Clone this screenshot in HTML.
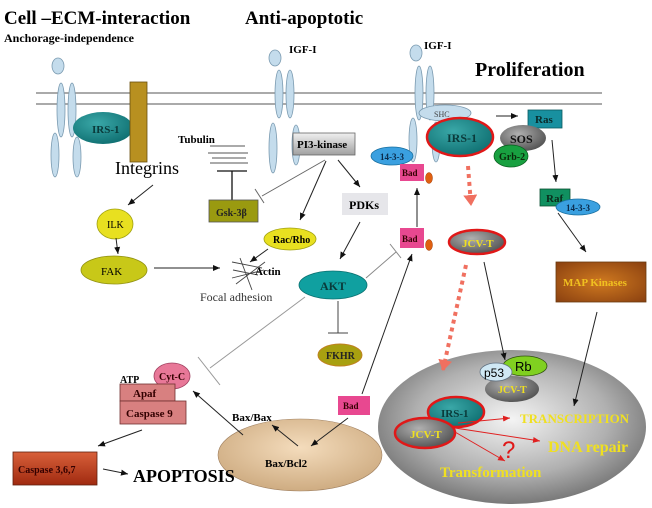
<!DOCTYPE html>
<html><head><meta charset="utf-8"><style>
html,body{margin:0;padding:0;background:#fff}
svg{display:block}
text{font-family:"Liberation Serif",serif;font-weight:bold}
</style></head><body>
<svg width="652" height="508" viewBox="0 0 652 508" xmlns="http://www.w3.org/2000/svg">
<defs>
<marker id="a" markerWidth="8" markerHeight="8" refX="7" refY="4" orient="auto" markerUnits="userSpaceOnUse"><path d="M0,1 L7,4 L0,7 Z" fill="#111"/></marker>
<marker id="r" markerWidth="8" markerHeight="8" refX="7" refY="4" orient="auto" markerUnits="userSpaceOnUse"><path d="M0,1 L7,4 L0,7 Z" fill="#e02020"/></marker>
<marker id="p" markerWidth="14" markerHeight="14" refX="10" refY="7" orient="auto" markerUnits="userSpaceOnUse"><path d="M0,0 L11,7 L0,14 Z" fill="#f07060"/></marker>
<radialGradient id="nuc" cx="0.5" cy="0.45" r="0.6"><stop offset="0" stop-color="#f4f4f4"/><stop offset="0.6" stop-color="#b0b0b0"/><stop offset="1" stop-color="#6a6a6a"/></radialGradient>
<radialGradient id="gr" cx="0.4" cy="0.35" r="0.7"><stop offset="0" stop-color="#b0b0b0"/><stop offset="1" stop-color="#505050"/></radialGradient>
<radialGradient id="tl" cx="0.4" cy="0.35" r="0.7"><stop offset="0" stop-color="#3aa8a8"/><stop offset="1" stop-color="#0e6e70"/></radialGradient>
<radialGradient id="map" cx="0.5" cy="0.5" r="0.7"><stop offset="0" stop-color="#d07a20"/><stop offset="1" stop-color="#8a4010"/></radialGradient>
<radialGradient id="tan" cx="0.5" cy="0.4" r="0.7"><stop offset="0" stop-color="#f4dcbc"/><stop offset="1" stop-color="#c8a478"/></radialGradient>
<linearGradient id="pi" x1="0" y1="0" x2="0" y2="1"><stop offset="0" stop-color="#f0f0f0"/><stop offset="1" stop-color="#a0a0a0"/></linearGradient>
<linearGradient id="cas" x1="0" y1="0" x2="0" y2="1"><stop offset="0" stop-color="#d8603a"/><stop offset="1" stop-color="#a02a10"/></linearGradient>
</defs>

<text x="4" y="24" font-size="19">Cell –ECM-interaction</text>
<text x="245" y="24" font-size="19">Anti-apoptotic</text>
<text x="4" y="42" font-size="12">Anchorage-independence</text>
<text x="475" y="76" font-size="20">Proliferation</text>

<line x1="36" y1="93" x2="602" y2="93" stroke="#777" stroke-width="1.3"/>
<line x1="36" y1="104" x2="602" y2="104" stroke="#777" stroke-width="1.3"/>

<g fill="#c4dcec" stroke="#7a9ab0" stroke-width="0.8">
<ellipse cx="58" cy="66" rx="6" ry="8"/>
<ellipse cx="61" cy="110" rx="4" ry="27"/><ellipse cx="72" cy="110" rx="4" ry="27"/>
<ellipse cx="55" cy="155" rx="4" ry="22"/><ellipse cx="77" cy="157" rx="4" ry="20"/>
</g>
<ellipse cx="103" cy="128" rx="30" ry="16" fill="url(#tl)"/>
<text x="92" y="133" font-size="11" fill="#0a3a3a">IRS-1</text>
<rect x="130" y="82" width="17" height="80" fill="#b89020" stroke="#6a5010" stroke-width="0.8"/>
<text x="115" y="174" font-size="18" style="font-weight:normal">Integrins</text>

<text x="178" y="143" font-size="11">Tubulin</text>
<g stroke="#555" stroke-width="1"><line x1="210" y1="146" x2="245" y2="146"/><line x1="208" y1="153" x2="248" y2="153"/><line x1="212" y1="158" x2="246" y2="158"/><line x1="210" y1="163" x2="248" y2="163"/></g>
<line x1="232" y1="171" x2="232" y2="200" stroke="#111" stroke-width="1.3"/>
<line x1="217" y1="171" x2="247" y2="171" stroke="#111" stroke-width="1.3"/>
<rect x="209" y="200" width="49" height="22" fill="#9a9a10" stroke="#555" stroke-width="0.8"/>
<text x="216" y="216" font-size="10" fill="#222">Gsk-3β</text>

<g fill="#c4dcec" stroke="#7a9ab0" stroke-width="0.8">
<ellipse cx="275" cy="58" rx="6" ry="8"/>
<ellipse cx="279" cy="94" rx="4" ry="24"/><ellipse cx="290" cy="94" rx="4" ry="24"/>
<ellipse cx="273" cy="148" rx="4" ry="25"/><ellipse cx="296" cy="145" rx="4" ry="20"/>
</g>
<text x="289" y="53" font-size="11">IGF-I</text>
<rect x="293" y="133" width="62" height="22" fill="url(#pi)" stroke="#666" stroke-width="0.8"/>
<text x="297" y="148" font-size="11">PI3-kinase</text>

<line x1="325" y1="160" x2="262" y2="196" stroke="#666" stroke-width="1"/>
<line x1="255" y1="189" x2="264" y2="203" stroke="#666" stroke-width="1"/>
<line x1="326" y1="161" x2="300" y2="220" stroke="#222" marker-end="url(#a)"/>
<line x1="338" y1="160" x2="360" y2="187" stroke="#222" marker-end="url(#a)"/>
<rect x="342" y="193" width="46" height="22" fill="#e6e6ea"/>
<text x="349" y="209" font-size="12">PDKs</text>

<ellipse cx="290" cy="239" rx="26" ry="11" fill="#e8e020" stroke="#a0a010" stroke-width="0.8"/>
<text x="273" y="243" font-size="10">Rac/Rho</text>

<line x1="153" y1="185" x2="128" y2="205" stroke="#222" marker-end="url(#a)"/>
<ellipse cx="115" cy="224" rx="18" ry="15" fill="#e8e020" stroke="#a0a010" stroke-width="0.8"/>
<text x="107" y="228" font-size="10" style="font-weight:normal">ILK</text>
<line x1="116" y1="238" x2="118" y2="254" stroke="#222" marker-end="url(#a)"/>
<ellipse cx="114" cy="270" rx="33" ry="14" fill="#c8c818" stroke="#909010" stroke-width="0.8"/>
<text x="101" y="275" font-size="11" style="font-weight:normal">FAK</text>
<line x1="154" y1="268" x2="220" y2="268" stroke="#222" marker-end="url(#a)"/>

<g stroke="#444" stroke-width="0.9"><line x1="232" y1="262" x2="262" y2="268"/><line x1="233" y1="270" x2="258" y2="275"/><line x1="232" y1="278" x2="264" y2="270"/><line x1="240" y1="258" x2="252" y2="290"/><line x1="236" y1="284" x2="265" y2="262"/></g>
<text x="255" y="275" font-size="11">Actin</text>
<text x="200" y="301" font-size="12" style="font-weight:normal" fill="#333">Focal adhesion</text>
<line x1="268" y1="249" x2="250" y2="262" stroke="#222" marker-end="url(#a)"/>

<line x1="360" y1="222" x2="340" y2="259" stroke="#222" marker-end="url(#a)"/>
<ellipse cx="333" cy="285" rx="34" ry="14" fill="#10a0a0" stroke="#0a7070" stroke-width="0.8"/>
<text x="320" y="290" font-size="12" fill="#0a3a3a">AKT</text>
<line x1="366" y1="278" x2="396" y2="252" stroke="#888" stroke-width="1"/>
<line x1="390" y1="244" x2="401" y2="258" stroke="#888" stroke-width="1"/>
<line x1="338" y1="301" x2="338" y2="333" stroke="#444" stroke-width="1"/>
<line x1="328" y1="333" x2="348" y2="333" stroke="#444" stroke-width="1"/>
<ellipse cx="340" cy="355" rx="22" ry="11" fill="#a8a010" stroke="#c08020" stroke-width="1"/>
<text x="326" y="359" font-size="10" fill="#222">FKHR</text>
<line x1="305" y1="297" x2="210" y2="368" stroke="#999" stroke-width="1"/>
<line x1="198" y1="357" x2="220" y2="385" stroke="#999" stroke-width="1"/>

<g fill="#c4dcec" stroke="#7a9ab0" stroke-width="0.8">
<ellipse cx="416" cy="53" rx="6" ry="8"/>
<ellipse cx="419" cy="93" rx="4" ry="27"/><ellipse cx="430" cy="93" rx="4" ry="27"/>
<ellipse cx="413" cy="140" rx="4" ry="22"/><ellipse cx="436" cy="142" rx="4" ry="20"/>
</g>
<text x="424" y="49" font-size="11">IGF-I</text>
<ellipse cx="445" cy="113" rx="26" ry="8" fill="#c4dcec" stroke="#7a9ab0" stroke-width="0.8"/>
<text x="434" y="117" font-size="8" style="font-weight:normal" fill="#444">SHC</text>
<line x1="496" y1="116" x2="518" y2="116" stroke="#222" marker-end="url(#a)"/>
<rect x="528" y="110" width="34" height="18" fill="#1890a0" stroke="#0a5a60" stroke-width="0.8"/>
<text x="535" y="123" font-size="11" fill="#0a2a2a">Ras</text>
<ellipse cx="523" cy="138" rx="23" ry="13" fill="url(#gr)"/>
<text x="510" y="143" font-size="12" fill="#111">SOS</text>
<ellipse cx="511" cy="156" rx="17" ry="11" fill="#18a040" stroke="#0a6020" stroke-width="0.8"/>
<text x="499" y="160" font-size="10" fill="#0a2a0a">Grb-2</text>
<ellipse cx="460" cy="137" rx="33" ry="19" fill="url(#tl)" stroke="#e01818" stroke-width="2.5"/>
<text x="447" y="142" font-size="12" fill="#0a3a3a">IRS-1</text>
<ellipse cx="392" cy="156" rx="21" ry="9" fill="#3aa0e0" stroke="#1a70a0" stroke-width="0.8"/>
<text x="380" y="160" font-size="9" fill="#0a2a4a">14-3-3</text>
<rect x="400" y="164" width="24" height="17" fill="#e84890"/>
<text x="402" y="176" font-size="9" fill="#300">Bad</text>
<ellipse cx="429" cy="178" rx="3.5" ry="5.5" fill="#e06010" stroke="#a04010" stroke-width="0.5"/>
<line x1="417" y1="227" x2="417" y2="188" stroke="#222" marker-end="url(#a)"/>

<line x1="468" y1="166" x2="471" y2="205" stroke="#f07060" stroke-width="4" stroke-dasharray="4 4" marker-end="url(#p)"/>

<line x1="552" y1="140" x2="556" y2="182" stroke="#222" marker-end="url(#a)"/>
<rect x="540" y="189" width="30" height="17" fill="#109060" stroke="#0a5030" stroke-width="0.8"/>
<text x="546" y="202" font-size="11" fill="#0a2a1a">Raf</text>
<ellipse cx="578" cy="207" rx="22" ry="8" fill="#3aa0e0" stroke="#1a70a0" stroke-width="0.8"/>
<text x="566" y="211" font-size="9" fill="#0a2a4a">14-3-3</text>
<line x1="558" y1="213" x2="586" y2="252" stroke="#222" marker-end="url(#a)"/>
<rect x="556" y="262" width="90" height="40" fill="url(#map)" stroke="#6a3a10" stroke-width="0.8"/>
<text x="563" y="286" font-size="11" fill="#f0c020">MAP Kinases</text>

<ellipse cx="477" cy="242" rx="28" ry="12" fill="url(#gr)" stroke="#e01818" stroke-width="2.5"/>
<text x="462" y="247" font-size="11" fill="#f0e020">JCV-T</text>
<rect x="400" y="228" width="24" height="20" fill="#e84890"/>
<text x="402" y="242" font-size="9" fill="#300">Bad</text>
<ellipse cx="429" cy="245" rx="3.5" ry="5.5" fill="#e06010" stroke="#a04010" stroke-width="0.5"/>

<ellipse cx="512" cy="427" rx="134" ry="77" fill="url(#nuc)"/>
<line x1="597" y1="312" x2="574" y2="406" stroke="#222" marker-end="url(#a)"/>
<line x1="484" y1="262" x2="505" y2="360" stroke="#222" marker-end="url(#a)"/>
<line x1="466" y1="265" x2="443" y2="370" stroke="#f07060" stroke-width="4" stroke-dasharray="4 4" marker-end="url(#p)"/>
<ellipse cx="512" cy="389" rx="27" ry="13" fill="url(#gr)"/>
<text x="498" y="393" font-size="10" fill="#f0e020">JCV-T</text>
<ellipse cx="525" cy="366" rx="22" ry="10" fill="#80d020" stroke="#305010" stroke-width="0.8"/>
<text x="515" y="371" font-size="13" style="font-family:'Liberation Sans',sans-serif;font-weight:normal">Rb</text>
<ellipse cx="496" cy="372" rx="16" ry="9" fill="#d0e8f4" stroke="#607080" stroke-width="0.8"/>
<text x="484" y="377" font-size="12" style="font-family:'Liberation Sans',sans-serif;font-weight:normal">p53</text>
<ellipse cx="456" cy="412" rx="28" ry="15" fill="url(#tl)" stroke="#e01818" stroke-width="2.5"/>
<text x="441" y="417" font-size="11" fill="#0a3a3a">IRS-1</text>
<ellipse cx="425" cy="433" rx="30" ry="15" fill="url(#gr)" stroke="#e01818" stroke-width="2.5"/>
<text x="410" y="438" font-size="11" fill="#f0e020">JCV-T</text>
<line x1="458" y1="423" x2="510" y2="418" stroke="#e02020" marker-end="url(#r)"/>
<line x1="455" y1="428" x2="540" y2="441" stroke="#e02020" marker-end="url(#r)"/>
<line x1="455" y1="432" x2="505" y2="461" stroke="#e02020" marker-end="url(#r)"/>
<text x="520" y="423" font-size="13" fill="#f0e020">TRANSCRIPTION</text>
<text x="548" y="452" font-size="16" fill="#f0e020">DNA repair</text>
<text x="440" y="477" font-size="15" fill="#f0e020">Transformation</text>
<text x="502" y="458" font-size="24" style="font-family:'Liberation Sans',sans-serif;font-weight:normal" fill="#e01818">?</text>

<ellipse cx="300" cy="455" rx="82" ry="36" fill="url(#tan)" stroke="#a08060" stroke-width="0.6"/>
<text x="265" y="467" font-size="11">Bax/Bcl2</text>
<text x="232" y="421" font-size="11">Bax/Bax</text>
<rect x="338" y="396" width="32" height="19" fill="#e84890"/>
<text x="343" y="409" font-size="9" fill="#300">Bad</text>
<line x1="362" y1="394" x2="412" y2="254" stroke="#222" marker-end="url(#a)"/>
<line x1="348" y1="418" x2="311" y2="446" stroke="#222" marker-end="url(#a)"/>
<line x1="298" y1="446" x2="272" y2="425" stroke="#222" marker-end="url(#a)"/>
<line x1="243" y1="435" x2="193" y2="391" stroke="#222" marker-end="url(#a)"/>

<ellipse cx="172" cy="376" rx="18" ry="13" fill="#e87898" stroke="#a04060" stroke-width="0.8"/>
<text x="159" y="380" font-size="10" fill="#300">Cyt-C</text>
<text x="120" y="383" font-size="10">ATP</text>
<rect x="120" y="384" width="55" height="17" fill="#d88080" stroke="#703030" stroke-width="0.8"/>
<text x="133" y="397" font-size="11" fill="#300">Apaf</text>
<rect x="120" y="401" width="66" height="23" fill="#d88080" stroke="#703030" stroke-width="0.8"/>
<text x="126" y="417" font-size="11" fill="#300">Caspase 9</text>
<line x1="142" y1="430" x2="98" y2="446" stroke="#222" marker-end="url(#a)"/>
<rect x="13" y="452" width="84" height="33" fill="url(#cas)" stroke="#602010" stroke-width="0.8"/>
<text x="18" y="473" font-size="10" fill="#300">Caspase 3,6,7</text>
<line x1="103" y1="469" x2="128" y2="474" stroke="#222" marker-end="url(#a)"/>
<text x="133" y="482" font-size="18">APOPTOSIS</text>
</svg>
</body></html>
